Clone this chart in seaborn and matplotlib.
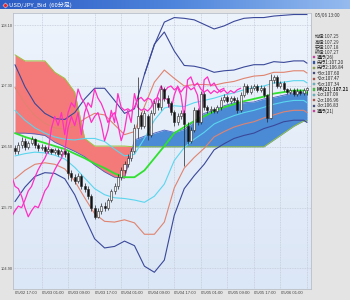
import numpy as np
import pandas as pd
import matplotlib
matplotlib.use("Agg")
import matplotlib.pyplot as plt
from matplotlib.colors import LinearSegmentedColormap
import seaborn as sns

# ---------------- data ----------------
title = "USD/JPY_Bid  (60分足)"
start_time = "2016-05-02 14:00"

opens = [
    106.48, 106.44, 106.52, 106.58, 106.50, 106.55, 106.60, 106.52, 106.48, 106.50,
    106.45, 106.47, 106.43, 106.46, 106.41, 106.44, 106.42, 106.15, 106.10, 106.05,
    106.12, 105.98, 105.95, 105.85, 105.70, 105.58, 105.66, 105.72, 105.70, 105.80,
    105.92, 105.98, 106.10, 106.20, 106.28, 106.35, 106.45, 106.75, 106.92, 106.78,
    106.90, 106.66, 106.95, 107.08, 107.02, 107.26, 107.14, 107.07, 106.96, 106.82,
    106.90, 106.95, 106.78, 106.58, 106.72, 106.98, 106.82, 107.20, 107.02, 106.98,
    107.00, 106.97, 107.02, 107.12, 107.15, 107.10, 107.14, 107.12, 106.98, 107.18,
    107.30, 107.22, 107.28, 107.30, 107.25, 107.28, 107.18, 106.88, 107.38, 107.42,
    107.30, 107.34, 107.26, 107.22, 107.25, 107.20, 107.24, 107.21, 107.25]
highs = [
    106.53, 106.56, 106.63, 106.61, 106.58, 106.64, 106.62, 106.55, 106.54, 106.52,
    106.50, 106.49, 106.49, 106.48, 106.47, 106.46, 106.45, 106.20, 106.14, 106.16,
    106.14, 106.03, 105.98, 105.88, 105.74, 105.69, 105.76, 105.77, 105.83, 105.95,
    106.03, 106.14, 106.24, 106.32, 106.40, 106.49, 106.80, 107.42, 106.96, 106.99,
    106.93, 106.99, 107.12, 107.13, 107.31, 107.29, 107.18, 107.10, 106.99, 106.94,
    106.99, 106.98, 106.82, 106.76, 107.02, 107.01, 107.24, 107.22, 107.05, 107.04,
    107.03, 107.05, 107.15, 107.19, 107.18, 107.17, 107.17, 107.15, 107.22, 107.34,
    107.33, 107.31, 107.33, 107.32, 107.31, 107.30, 107.20, 107.46, 107.45, 107.44,
    107.37, 107.36, 107.28, 107.28, 107.27, 107.27, 107.26, 107.28, 107.29]
lows = [
    106.40, 106.41, 106.49, 106.46, 106.47, 106.52, 106.49, 106.45, 106.46, 106.42,
    106.42, 106.40, 106.41, 106.38, 106.38, 106.37, 106.08, 106.05, 106.01, 106.02,
    105.94, 105.90, 105.81, 105.65, 105.55, 105.56, 105.62, 105.66, 105.67, 105.77,
    105.88, 105.95, 106.06, 106.15, 106.24, 106.31, 106.42, 106.62, 106.74, 106.75,
    106.59, 106.63, 106.92, 106.98, 106.99, 107.10, 107.03, 106.92, 106.78, 106.79,
    106.86, 106.25, 106.54, 106.55, 106.70, 106.79, 106.80, 106.98, 106.95, 106.95,
    106.94, 106.94, 106.99, 107.09, 107.07, 107.07, 107.09, 106.95, 106.96, 107.15,
    107.19, 107.19, 107.25, 107.22, 107.22, 107.15, 106.83, 106.86, 107.34, 107.27,
    107.27, 107.23, 107.19, 107.19, 107.17, 107.17, 107.18, 107.18, 107.18]
closes = [
    106.44, 106.52, 106.58, 106.50, 106.55, 106.60, 106.52, 106.48, 106.50, 106.45,
    106.47, 106.43, 106.46, 106.41, 106.44, 106.40, 106.15, 106.10, 106.05, 106.12,
    105.98, 105.95, 105.85, 105.70, 105.58, 105.66, 105.72, 105.70, 105.80, 105.92,
    105.98, 106.10, 106.20, 106.28, 106.35, 106.45, 106.75, 106.90, 106.78, 106.95,
    106.66, 106.95, 107.08, 107.02, 107.26, 107.14, 107.07, 106.96, 106.82, 106.90,
    106.95, 106.80, 106.58, 106.72, 106.98, 106.82, 107.20, 107.02, 106.98, 107.00,
    106.97, 107.02, 107.12, 107.15, 107.10, 107.14, 107.12, 106.98, 107.18, 107.30,
    107.22, 107.28, 107.30, 107.25, 107.28, 107.18, 106.88, 107.38, 107.42, 107.30,
    107.34, 107.26, 107.22, 107.25, 107.20, 107.24, 107.21, 107.25, 107.27]

# indicator lines, sampled every 3 bars (bar index)
line_idx = [0, 3, 6, 9, 12, 15, 18, 21, 24, 27, 30, 33, 36, 39, 42, 45,
            48, 51, 54, 57, 60, 63, 66, 69, 72, 75, 78, 81, 84, 87, 88]
ma21 = [106.68, 106.63, 106.59, 106.55, 106.51, 106.47, 106.41, 106.35, 106.28, 106.22,
        106.15, 106.10, 106.10, 106.19, 106.35, 106.51, 106.68, 106.76, 106.84, 106.90,
        106.97, 107.02, 107.06, 107.10, 107.13, 107.16, 107.20, 107.22, 107.24, 107.24,
        107.21]
sigma = [0.30, 0.22, 0.16, 0.13, 0.12, 0.13, 0.18, 0.26, 0.33, 0.35,
         0.32, 0.28, 0.30, 0.42, 0.50, 0.50, 0.36, 0.27, 0.24, 0.21,
         0.17, 0.16, 0.15, 0.15, 0.15, 0.14, 0.14, 0.13, 0.13, 0.13,
         0.13]
span1 = [106.68, 106.68, 106.67, 106.65, 106.56, 106.50, 106.44, 106.37, 106.26, 106.17,
         106.10, 106.09, 106.59, 106.64, 106.68, 106.72, 106.69, 106.73, 106.83, 106.94,
         106.98, 107.04, 107.08, 107.08, 107.09, 107.13, 107.15, 107.18, 107.21, 107.22,
         107.20]
span2 = [107.71, 107.63, 107.63, 107.63, 107.48, 107.40, 107.22, 106.61, 106.51, 106.51,
         106.51, 106.51, 106.50, 106.50, 106.50, 106.50, 106.50, 106.50, 106.50, 106.50,
         106.50, 106.50, 106.50, 106.50, 106.50, 106.50, 106.59, 106.68, 106.77, 106.84,
         106.84]
env_idx = [39, 42, 45, 48, 51, 54, 57, 60, 63, 66, 69, 72, 75, 78, 81, 84, 87, 88]
upper_env = [107.45, 107.84, 108.14, 108.20, 108.19, 108.17, 108.11, 108.05, 108.09,
             108.15, 108.19, 108.20, 108.20, 108.22, 108.23, 108.24, 108.24, 108.24]
lag_shifts = [25, 20]

y_ticks = [104.90, 105.70, 106.50, 107.30, 108.10]

info_time = "05/06 13:00"
ohlc_labels = ["始値:107.25", "高値:107.29", "安値:107.18", "終値:107.27"]
ind_labels = ["遅行(26)", "先行1:107.20", "先行2:106.84", "+3σ:107.60", "+2σ:107.47",
              "+1σ:107.34", "MA(21):107.21", "-1σ:107.09", "-2σ:106.96", "-3σ:106.83",
              "遅行(21)"]

# ---------------- style ----------------
C_NAVY = '#3a4899'
C_SALMON = '#e0836f'
C_CYAN = '#5ad6ee'
C_MA = '#2fe02f'
C_MAG = '#ff2fc4'
C_SPAN1 = '#4a5fc0'
C_SPAN2 = '#9cc23c'
ind_colors = [C_MAG, '#2255cc', C_SPAN2, C_NAVY, '#d84a3a', C_CYAN, C_MA,
              C_CYAN, '#d84a3a', C_NAVY, C_MAG]

sns.set_style("white")
plt.rcParams['font.family'] = ['Noto Sans CJK JP', 'DejaVu Sans']

W, H = 350, 300
fig = plt.figure(figsize=(W / 100, H / 100), dpi=100, facecolor='#e4e4e4')

# title bar
tax = fig.add_axes([0, 1 - 9 / H, 1, 9 / H])
cm_bar = LinearSegmentedColormap.from_list('tb', ['#2b5bc4', '#4f85dc', '#95bbef'])
tax.imshow(np.linspace(0, 1, 256)[None, :], aspect='auto', cmap=cm_bar,
           extent=[0, 1, 0, 1])
tax.plot([5 / W], [0.5], marker='D', ms=2.6, color='#e8262a', mec='#ffffff', mew=0.3)
tax.set_xlim(0, 1)
tax.set_ylim(0, 1)
tax.axis('off')
fig.text(9 / W, 1 - 4.6 / H, title, color='white', fontsize=4.3, va='center', ha='left')

# main axes
ax = fig.add_axes([13 / W, 1 - 289 / H, (311 - 13) / W, (289 - 13) / H])
times = pd.date_range(start_time, periods=len(closes), freq='h')
n = len(closes)
idx = np.arange(n)
xlim = (-0.6, 89.2)
ylim = (104.63, 108.26)

cm_bg = LinearSegmentedColormap.from_list('bg', ['#dbe6f6', '#eef4fc'])
ax.imshow(np.linspace(0, 1, 128)[:, None], aspect='auto', cmap=cm_bg, origin='lower',
          extent=[xlim[0], xlim[1], ylim[0], ylim[1]], zorder=0)

lx = np.array(line_idx)
ma = np.array(ma21)
sd = np.array(sigma)
s1 = np.array(span1)
s2 = np.array(span2)

ax.fill_between(lx, s1, s2, where=s2 >= s1, interpolate=True, color='#f47a7a', lw=0, zorder=1)
ax.fill_between(lx, s1, s2, where=s1 > s2, interpolate=True, color='#4b8bd6', lw=0, zorder=1)
ax.plot(lx, s1, color=C_SPAN1, lw=0.6, zorder=2)
ax.plot(lx, s2, color=C_SPAN2, lw=0.7, zorder=2)

for k, col in [(3, C_NAVY), (2, C_SALMON), (1, C_CYAN)]:
    sns.lineplot(x=lx, y=ma + k * sd, color=col, lw=0.8, ax=ax, zorder=3)
    sns.lineplot(x=lx, y=ma - k * sd, color=col, lw=0.8, ax=ax, zorder=3)
sns.lineplot(x=np.array(env_idx), y=np.array(upper_env), color=C_NAVY, lw=0.8, ax=ax, zorder=3)
sns.lineplot(x=lx, y=ma, color=C_MA, lw=1.3, ax=ax, zorder=4)

for sh in lag_shifts:
    ax.plot(idx - sh, closes, color=C_MAG, lw=0.9, zorder=5)

O = np.array(opens); Hh = np.array(highs); L = np.array(lows); C = np.array(closes)
up = C >= O
ax.vlines(idx, L, Hh, color='#222222', lw=0.5, zorder=6)
ax.bar(idx, np.maximum(np.abs(C - O), 0.012), bottom=np.minimum(O, C), width=0.62,
       color=np.where(up, '#f2f2f2', '#111111'), edgecolor='#2a2a2a', linewidth=0.4, zorder=7)

ax.set_xlim(*xlim)
ax.set_ylim(*ylim)

# ticks / grid
ax.set_yticks(y_ticks)
ax.set_yticklabels([f"{v:.2f}" for v in y_ticks], family='Liberation Sans', fontsize=2.8)
lab_mask = np.isin(times.hour, [1, 9, 17])
ax.set_xticks(idx[lab_mask] + 0.3)
ax.set_xticklabels([t.strftime('%m/%d %H:%M') for t in times[lab_mask]],
                   family='Liberation Sans', fontsize=3.1)
grid_mask = np.isin(times.hour, [6, 14, 22]) & (idx > 0)
ax.set_xticks(idx[grid_mask], minor=True)
ax.tick_params(axis='both', which='both', length=0, colors='#444444')
ax.tick_params(axis='y', pad=0.4)
ax.tick_params(axis='x', pad=1.5)
ax.grid(axis='y', which='major', color='#c4ccd8', lw=0.6, ls=(0, (1, 1)))
ax.grid(axis='x', which='minor', color='#c4ccd8', lw=0.6, ls=(0, (1, 1)))
ax.grid(axis='x', which='major', visible=False)
for sp in ax.spines.values():
    sp.set_color('#b9bfc8')
    sp.set_linewidth(0.6)

# right info panel
fig.text(315 / W, 1 - 16 / H, info_time, fontsize=3.3, color='#333333', va='center')
for j, t in enumerate(ohlc_labels):
    fig.text(315 / W, 1 - (37 + 5 * j) / H, t, fontsize=3.3, color='#333333', va='center')
for j, (t, col) in enumerate(zip(ind_labels, ind_colors)):
    yy = 1 - (57 + 5.4 * j) / H
    fig.patches.append(plt.Rectangle((313 / W, yy - 1.1 / H), 2.2 / W, 2.2 / H,
                                     transform=fig.transFigure, facecolor=col,
                                     edgecolor='#555555', lw=0.2))
    fig.text(316.5 / W, yy, t, fontsize=3.3, color='#222222', va='center',
             fontweight='bold' if t.startswith('MA') else 'normal')

fig.savefig('out.png', dpi=100, facecolor=fig.get_facecolor())
